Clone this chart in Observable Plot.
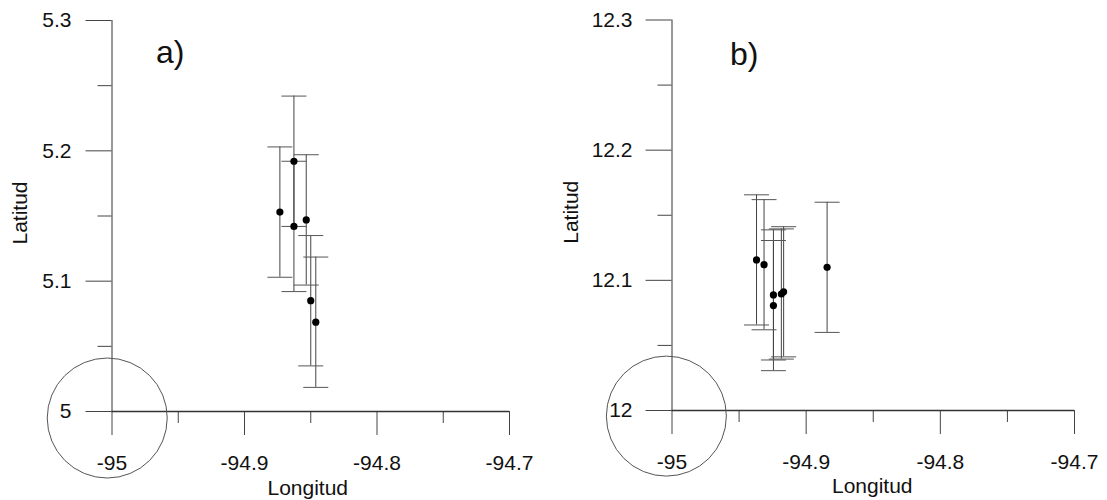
<!DOCTYPE html>
<html>
<head>
<meta charset="utf-8">
<script src="https://cdn.jsdelivr.net/npm/d3@7"></script>
<script src="https://cdn.jsdelivr.net/npm/@observablehq/plot@0.6"></script>
<style>
  body { margin: 0; background: #fff; }
  #wrap { display: flex; width: 1107px; height: 500px; }
  #wrap > div { flex: none; }
</style>
</head>
<body>
<div id="wrap"><div id="pa"></div><div id="pb"></div></div>
<script>
// ---- data ----
const panelLabels = ["a)", "b)"];
const xLabel = "Longitud";
const yLabel = "Latitud";

const lonDomain = [-95, -94.7];
const lonMajorTicks = [-95, -94.9, -94.8, -94.7];
const lonMinorTicks = [-94.95, -94.85, -94.75];

const latDomainA = [5, 5.3];
const latMajorTicksA = [5, 5.1, 5.2, 5.3];
const latMinorTicksA = [5.05, 5.15, 5.25];

const latDomainB = [12, 12.3];
const latMajorTicksB = [12, 12.1, 12.2, 12.3];
const latMinorTicksB = [12.05, 12.15, 12.25];

// panel a) points (longitude, latitude, latitude error)
const lonA = [-94.8733, -94.8627, -94.8627, -94.8534, -94.8500, -94.8462];
const latA = [5.153, 5.192, 5.142, 5.147, 5.085, 5.0685];
const errA = [0.05, 0.05, 0.05, 0.05, 0.05, 0.05];

// panel b) points
const lonB = [-94.9370, -94.9314, -94.9244, -94.9244, -94.9185, -94.9168, -94.8844];
const latB = [12.1157, 12.112, 12.0888, 12.0806, 12.0895, 12.0912, 12.110];
const errB = [0.05, 0.05, 0.05, 0.05, 0.05, 0.05, 0.05];

// circled origin
const circleA = [{lon: -95.0036, lat: 4.995}];
const circleB = [{lon: -95.0042, lat: 11.9957}];

// ---- drawing ----
const capSymbol = {
  draw(ctx, size) {
    const r = Math.sqrt(size / Math.PI);
    ctx.moveTo(-r, 0);
    ctx.lineTo(r, 0);
  }
};
const fmt = d => String(d);
const FONT = "'Liberation Sans', Arial, Helvetica, sans-serif";

function panel(cfg) {
  const data = cfg.lon.map((lon, i) => ({
    lon, lat: cfg.lat[i], lo: cfg.lat[i] - cfg.err[i], hi: cfg.lat[i] + cfg.err[i]
  }));
  return Plot.plot({
    width: cfg.width,
    height: 500,
    marginLeft: cfg.ml, marginRight: cfg.mr, marginTop: cfg.mt, marginBottom: cfg.mb,
    x: {domain: lonDomain},
    y: {domain: cfg.latDomain},
    style: {fontFamily: FONT, fontSize: "21px", color: "#111", background: "#fff", overflow: "visible"},
    marks: [
      // axes
      Plot.axisY(cfg.minorY, {tickSize: 14, tickFormat: () => "", label: null, stroke: "#444"}),
      Plot.axisY(cfg.majorY, {tickSize: 26, tickPadding: cfg.yPad, tickFormat: fmt, label: null, stroke: "#444", fill: "#111"}),
      Plot.axisX(lonMinorTicks, {tickSize: 12, tickFormat: () => "", label: null, stroke: "#444"}),
      Plot.axisX(lonMajorTicks, {tickSize: 24, tickPadding: 20, tickFormat: fmt, label: null, stroke: "#444", fill: "#111"}),
      Plot.ruleX([lonDomain[0]], {y1: cfg.latDomain[0], y2: cfg.latDomain[1], stroke: "#333", strokeWidth: 1}),
      Plot.ruleY([cfg.latDomain[0]], {x1: lonDomain[0], x2: lonDomain[1], stroke: "#333", strokeWidth: 1.3}),
      // circle around origin
      Plot.dot(cfg.circle, {x: "lon", y: "lat", r: 60, stroke: "#555", strokeWidth: 1, fill: "none"}),
      // error bars
      Plot.ruleX(data, {x: "lon", y1: "lo", y2: "hi", stroke: "#444", strokeWidth: 1}),
      Plot.dot(data, {x: "lon", y: "hi", symbol: capSymbol, r: 12.5, stroke: "#555", strokeWidth: 1, fill: "none"}),
      Plot.dot(data, {x: "lon", y: "lo", symbol: capSymbol, r: 12.5, stroke: "#555", strokeWidth: 1, fill: "none"}),
      // points
      Plot.dot(data, {x: "lon", y: "lat", r: 3.6, fill: "#000", stroke: "none"}),
      // texts
      Plot.text([cfg.label], {frameAnchor: "top-left", dx: cfg.labelDx, dy: cfg.labelDy, textAnchor: "start", lineAnchor: "bottom", fontSize: 32, fill: "#111"}),
      Plot.text([xLabel], {frameAnchor: "bottom", dx: cfg.xlDx, dy: cfg.xlDy, textAnchor: "middle", lineAnchor: "bottom", fill: "#111"}),
      Plot.text([yLabel], {frameAnchor: "left", rotate: -90, dx: cfg.ylDx, dy: cfg.ylDy, textAnchor: "middle", lineAnchor: "bottom", fill: "#111"})
    ]
  });
}

document.getElementById("pa").appendChild(panel({
  width: 550, ml: 111.5, mr: 41, mt: 20, mb: 89,
  latDomain: latDomainA, majorY: latMajorTicksA, minorY: latMinorTicksA,
  lon: lonA, lat: latA, err: errA, circle: circleA, label: panelLabels[0],
  yPad: 14.5, labelDx: 44, labelDy: 42, xlDx: -3, xlDy: 83, ylDx: -85, ylDy: -3
}));
document.getElementById("pb").appendChild(panel({
  width: 557, ml: 121.5, mr: 33, mt: 19.5, mb: 90,
  latDomain: latDomainB, majorY: latMajorTicksB, minorY: latMinorTicksB,
  lon: lonB, lat: latB, err: errB, circle: circleB, label: panelLabels[1],
  yPad: 13.5, labelDx: 58, labelDy: 45, xlDx: -1, xlDy: 82, ylDx: -94.5, ylDy: -3
}));
</script>
</body>
</html>
